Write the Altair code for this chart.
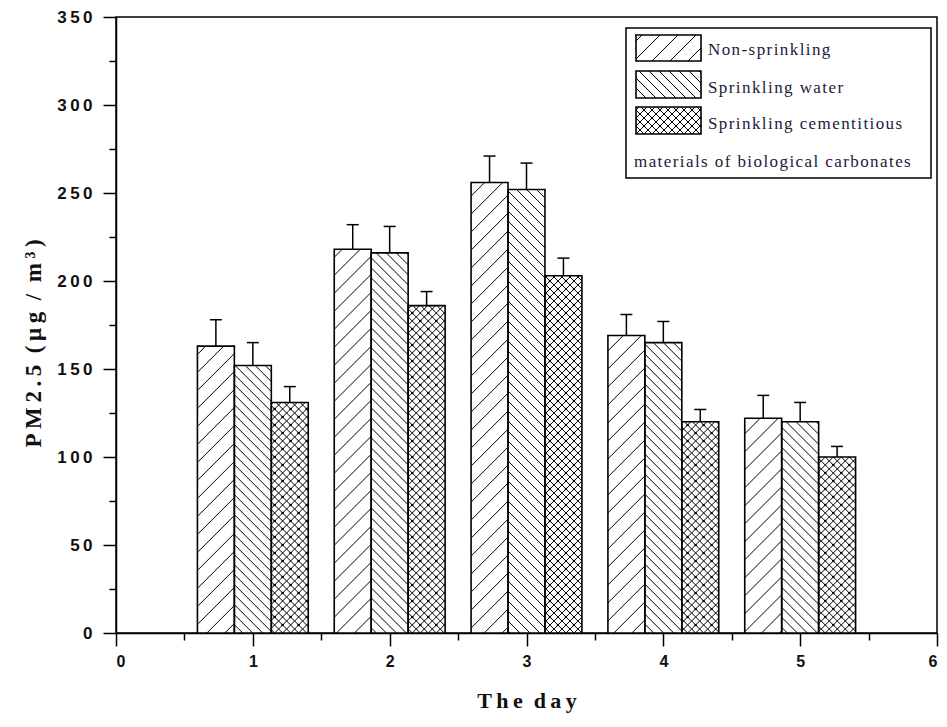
import altair as alt
import pandas as pd
import numpy as np

# ---------------- data ----------------
days = [1, 2, 3, 4, 5]
series_names = ["Non-sprinkling", "Sprinkling water",
                "Sprinkling cementitious materials of biological carbonates"]
non_sprinkling = [163, 218, 256, 169, 122]
sprinkling_water = [152, 216, 252, 165, 120]
cementitious = [131, 186, 203, 120, 100]
err_non = [15, 14, 15, 12, 13]
err_water = [13, 15, 15, 12, 11]
err_cem = [9, 8, 10, 7, 6]
legend_lines = ["Non-sprinkling", "Sprinkling water", "Sprinkling cementitious",
                "materials of biological carbonates"]
x_ticks = [0, 0.5, 1, 1.5, 2, 2.5, 3, 3.5, 4, 4.5, 5, 5.5, 6]
y_ticks = list(range(0, 351, 25))

# ---------------- style ----------------
W, H = 821, 616
XMAX, YMAX = 6, 350
BW = 0.27
OFFS = [-0.27, 0.0, 0.27]
HATCH = [(18, [1]), (10, [-1]), (8, [1, -1])]   # (spacing px, directions)
THIN = "\u2009"
HAIR = "\u200a"
ENSP = "\u2002"
sx, sy = W / XMAX, H / YMAX

values = [non_sprinkling, sprinkling_water, cementitious]
errs = [err_non, err_water, err_cem]

rows = []
for s, (vals, ers) in enumerate(zip(values, errs)):
    for d, v, e in zip(days, vals, ers):
        rows.append({"day": d, "s": s, "series": series_names[s], "value": v, "err": e})
bars = pd.DataFrame(rows)


def hatch(x0, w, h, d, direction):
    segs = []
    if direction == 1:
        phase = -(x0 % d)
        k0 = int(np.floor((-w - phase) / d)) - 1
        k1 = int(np.ceil((h - phase) / d)) + 1
        for k in range(k0, k1 + 1):
            c = k * d + phase
            lo, hi = max(0, -c), min(w, h - c)
            if hi - lo > 0.6:
                segs.append((x0 + lo, lo + c, x0 + hi, hi + c))
    else:
        phase = (x0 % d)
        k0 = int(np.floor(-phase / d)) - 1
        k1 = int(np.ceil((h + w - phase) / d)) + 1
        for k in range(k0, k1 + 1):
            c = k * d + phase
            lo, hi = max(0, c - h), min(w, c)
            if hi - lo > 0.6:
                segs.append((x0 + lo, c - lo, x0 + hi, c - hi))
    return segs


def dots(x0, w, h, d):
    pts = []
    p1 = -(x0 % d)
    p2 = (x0 % d)
    n = int((w + h) / d) + 4
    for i in range(-n, n + 1):
        if i % 2:
            continue
        c1 = i * d + p1
        for j in range(-n, n + 1):
            if j % 2:
                continue
            c2 = j * d + p2
            t = (c2 - c1) / 2
            y = (c1 + c2) / 2
            if 1 < t < w - 1 and 1 < y < h - 1:
                pts.append((x0 + t, y))
    return pts


# hatch segments of bars, computed from the values, in data units
seg_rows, dot_rows = [], []
for s, vals in enumerate(values):
    spacing, dirs = HATCH[s]
    for d, v in zip(days, vals):
        x0 = (d + OFFS[s] - BW / 2) * sx
        w = BW * sx
        h = v * sy
        for direc in dirs:
            for a, b, c, e in hatch(x0, w, h, spacing, direc):
                seg_rows.append({"x": a / sx, "y": b / sy, "x2": c / sx, "y2": e / sy})
        if s == 2:
            for a, b in dots(x0, w, h, spacing):
                dot_rows.append({"x": a / sx, "y": b / sy})

# legend (pixel layout inside plot, converted to data units)
LX = W - 311
LBOX = (LX, LX + 305, 11, 161)
SW = [(LX + 10, LX + 75, 18, 44), (LX + 10, LX + 75, 54, 81), (LX + 10, LX + 75, 90, 117)]
for s, (xa, xb, ya, yb) in enumerate(SW):
    spacing, dirs = HATCH[s]
    w, h = xb - xa, yb - ya
    for direc in dirs:
        for a, b, c, e in hatch(xa, w, h, spacing, direc):
            seg_rows.append({"x": a / sx, "y": (H - (yb - b)) / sy,
                             "x2": c / sx, "y2": (H - (yb - e)) / sy})
    if s == 2:
        for a, b in dots(xa, w, h, spacing):
            dot_rows.append({"x": a / sx, "y": (H - (yb - b)) / sy})

segs = pd.DataFrame(seg_rows)
dotdf = pd.DataFrame(dot_rows)

boxes = pd.DataFrame(
    [{"x": LBOX[0] / sx, "x2": LBOX[1] / sx, "y": (H - LBOX[2]) / sy, "y2": (H - LBOX[3]) / sy, "k": "box"}]
    + [{"x": a / sx, "x2": b / sx, "y": (H - c) / sy, "y2": (H - e) / sy, "k": "sw"} for a, b, c, e in SW]
)
text_pos = [(LX + 82, 33), (LX + 82, 71), (LX + 82, 107), (LX + 8, 145)]
ltext = pd.DataFrame([{"x": p[0] / sx, "y": (H - p[1]) / sy, "t": HAIR.join(list(t))}
                      for p, t in zip(text_pos, legend_lines)])

xscale = alt.Scale(domain=[0, XMAX], nice=False, zero=False)
yscale = alt.Scale(domain=[0, YMAX], nice=False, zero=False)


def spaced(text):
    return ENSP.join(THIN.join(list(w)) for w in text.split(" "))


y_title = spaced("PM2.5 (μg / m³)")
x_title = spaced("The day")

x_axis = alt.Axis(
    values=x_ticks,
    labelExpr="datum.value % 1 === 0 ? format(datum.value, 'd') : ''",
    tickSize={"condition": {"test": "datum.value % 1 === 0", "value": 13}, "value": 7},
    labelFont="Liberation Sans", labelFontWeight="bold", labelFontSize=16, labelPadding=7,
    labelColor="#111", title=x_title, titleFont="Liberation Serif", titleFontSize=22,
    titleFontWeight="bold", titleColor="#111", titleX=W / 2, titleY=67,
    titleAlign="center", titleBaseline="middle", grid=False,
)
y_axis = alt.Axis(
    values=y_ticks,
    labelExpr=f"datum.value % 50 === 0 ? join(split(datum.label, ''), '{THIN}') : ''",
    tickSize={"condition": {"test": "datum.value % 50 === 0", "value": 13}, "value": 7},
    labelFont="Liberation Sans", labelFontWeight="bold", labelFontSize=17, labelPadding=11,
    labelColor="#111", title=y_title, titleFont="Liberation Serif", titleFontSize=23,
    titleFontWeight="bold", titleColor="#111", titleAngle=270, titleX=-83, titleY=326,
    titleAlign="center", titleBaseline="middle", grid=False,
)

base = alt.Chart(bars).transform_calculate(
    xc=f"datum.day + (datum.s - 1) * {OFFS[2]}",
    xa=f"datum.day + (datum.s - 1) * {OFFS[2]} - {BW / 2}",
    xb=f"datum.day + (datum.s - 1) * {OFFS[2]} + {BW / 2}",
    top="datum.value + datum.err",
)

fill = base.mark_rect(fill="white", stroke=None).encode(
    x=alt.X("xa:Q", scale=xscale, axis=x_axis),
    x2="xb:Q",
    y=alt.Y("value:Q", scale=yscale, axis=y_axis),
    y2=alt.datum(0),
)

hatch_layer = alt.Chart(segs).mark_rule(color="black", strokeWidth=1).encode(
    x=alt.X("x:Q", scale=xscale),
    y=alt.Y("y:Q", scale=yscale),
    x2="x2:Q", y2="y2:Q",
)
dot_layer = alt.Chart(dotdf).mark_square(color="black", size=5, opacity=1).encode(
    x=alt.X("x:Q", scale=xscale),
    y=alt.Y("y:Q", scale=yscale),
)

outline = base.mark_rect(fillOpacity=0, stroke="black", strokeWidth=1.6).encode(
    x=alt.X("xa:Q", scale=xscale),
    x2="xb:Q",
    y=alt.Y("value:Q", scale=yscale),
    y2=alt.datum(0),
)

err_rule = base.mark_rule(color="black", strokeWidth=1.5).encode(
    x=alt.X("xc:Q", scale=xscale),
    y=alt.Y("value:Q", scale=yscale),
    y2="top:Q",
)
err_cap = base.mark_tick(color="black", orient="horizontal", size=12, thickness=1.5, opacity=1).encode(
    x=alt.X("xc:Q", scale=xscale),
    y=alt.Y("top:Q", scale=yscale),
)

box_fill = alt.Chart(boxes[boxes.k == "box"]).mark_rect(fill="white", stroke="black", strokeWidth=1.5).encode(
    x=alt.X("x:Q", scale=xscale), x2="x2:Q",
    y=alt.Y("y:Q", scale=yscale), y2="y2:Q",
)
sw_fill = alt.Chart(boxes[boxes.k == "sw"]).mark_rect(fill="white", stroke=None).encode(
    x=alt.X("x:Q", scale=xscale), x2="x2:Q",
    y=alt.Y("y:Q", scale=yscale), y2="y2:Q",
)
sw_outline = alt.Chart(boxes[boxes.k == "sw"]).mark_rect(fillOpacity=0, stroke="black", strokeWidth=1.6).encode(
    x=alt.X("x:Q", scale=xscale), x2="x2:Q",
    y=alt.Y("y:Q", scale=yscale), y2="y2:Q",
)
legend_text = alt.Chart(ltext).mark_text(
    align="left", baseline="middle", font="Liberation Serif", fontSize=17, color="#1a1a3a"
).encode(
    x=alt.X("x:Q", scale=xscale),
    y=alt.Y("y:Q", scale=yscale),
    text="t:N",
)

chart = alt.layer(
    fill, box_fill, sw_fill, hatch_layer, dot_layer, outline, sw_outline,
    err_rule, err_cap, legend_text
).properties(
    width=W, height=H,
    autosize=alt.AutoSizeParams(type="none"),
    padding={"left": 108, "top": 9, "right": 2, "bottom": 84},
).configure_view(
    stroke="black", strokeWidth=1.5
).configure_axis(
    domainColor="black", domainWidth=1.5, tickColor="black", tickWidth=1.5
)

chart.save("out.html", embed_options={"renderer": "svg", "actions": False})
